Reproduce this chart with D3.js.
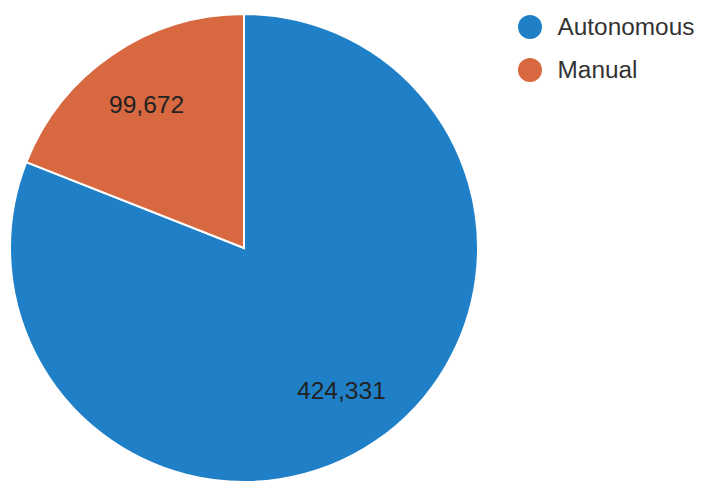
<!DOCTYPE html>
<html>
<head>
<meta charset="utf-8">
<script src="https://cdn.jsdelivr.net/npm/d3@7/dist/d3.min.js"></script>
<style>
  body { margin: 0; background: #fff; }
  text { font-family: "Liberation Sans", Arial, sans-serif; }
</style>
</head>
<body>
<svg id="chart" width="702" height="483"></svg>
<script>
// data
var categories = ['Autonomous', 'Manual'];
var values = [424331, 99672];
var colors = ['#1f80c8', '#d8683f'];

var svg = d3.select('#chart');
var cx = 244, cy = 248, radius = 234;

var pie = d3.pie().sort(null).value(function (d) { return d; });
var arc = d3.arc().innerRadius(0).outerRadius(radius);
// labels sit at about 3/4 of the radius
var labelArc = d3.arc().innerRadius(radius * 0.74).outerRadius(radius * 0.74);

var g = svg.append('g').attr('transform', 'translate(' + cx + ',' + cy + ')');
var slices = pie(values);

g.selectAll('path')
  .data(slices)
  .enter().append('path')
  .attr('d', arc)
  .attr('fill', function (d, i) { return colors[i]; })
  .attr('stroke', '#fff')
  .attr('stroke-width', 2);

var fmt = d3.format(',');
g.selectAll('text.val')
  .data(slices)
  .enter().append('text')
  .attr('class', 'val')
  .attr('transform', function (d) {
    var c = labelArc.centroid(d);
    return 'translate(' + c[0] + ',' + c[1] + ') scale(1.07,1)';
  })
  .attr('text-anchor', 'middle')
  .attr('dy', '0.36em')
  .style('font-size', '23px')
  .style('fill', '#222')
  .text(function (d) { return fmt(d.data); });

// legend
var legend = svg.append('g').attr('transform', 'translate(530,27)');
var item = legend.selectAll('g')
  .data(categories)
  .enter().append('g')
  .attr('transform', function (d, i) { return 'translate(0,' + (i * 43) + ')'; });

item.append('circle')
  .attr('r', 12)
  .attr('fill', function (d, i) { return colors[i]; });

item.append('text')
  .attr('x', 26)
  .attr('dy', '0.36em')
  .attr('transform', 'scale(1.06,1)')
  .style('font-size', '23px')
  .style('fill', '#333')
  .text(function (d) { return d; });
</script>
</body>
</html>
